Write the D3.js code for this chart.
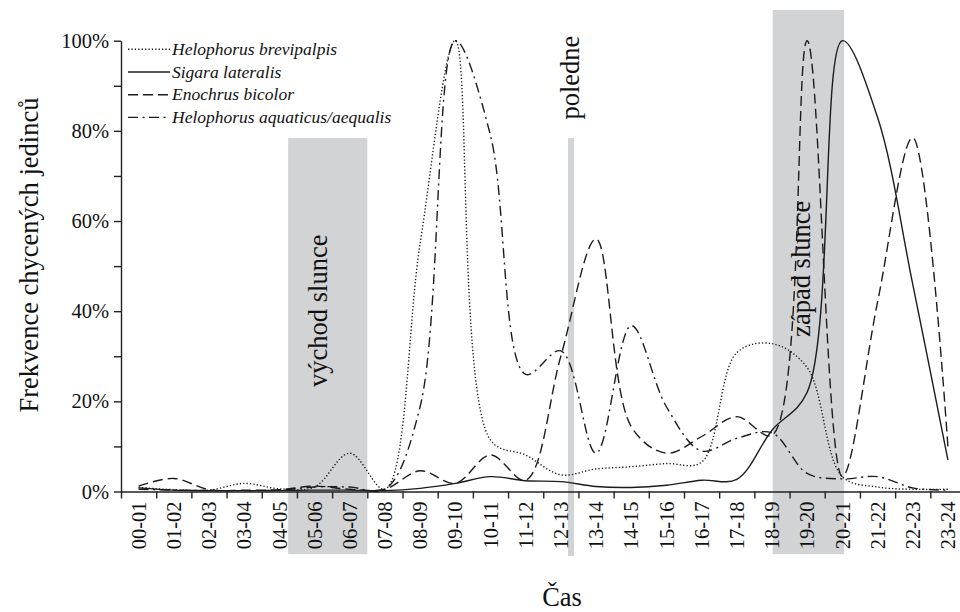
<!DOCTYPE html>
<html>
<head>
<meta charset="utf-8">
<script src="https://cdn.jsdelivr.net/npm/d3@7"></script>
<style>
    body { margin: 0; background: #fff; }
    svg { display: block; }
</style>
</head>
<body>
<div id="chart"></div>
<script>
var margin = {
    top: 40.7,
    left: 121
};
var width = 844.5;   // 24 hour bands, last one runs off the page
var height = 450.8;
var serif = "'Liberation Serif', 'Times New Roman', 'DejaVu Serif', serif";

// hour bands on the x axis
var hours = ["00-01", "01-02", "02-03", "03-04", "04-05", "05-06", "06-07", "07-08",
    "08-09", "09-10", "10-11", "11-12", "12-13", "13-14", "14-15", "15-16",
    "16-17", "17-18", "18-19", "19-20", "20-21", "21-22", "22-23", "23-24"];

// frequency of caught individuals (%) per hour
var brevipalpis = [0.9, 0.4, 0.3, 1.8, 0.6, 1.0, 8.5, 0.5, 55, 100, 11.4, 8.1,
    3.7, 5.0, 5.5, 6.2, 6.5, 30.8, 32.8, 27.5, 3.3, 1.0, 0.5, 0.5];
var lateralis = [0.8, 0.3, 0.2, 0.2, 0.2, 0.3, 0.3, 0.2, 0.7, 1.8, 3.3, 2.4,
    2.2, 1.1, 0.9, 1.4, 2.5, 2.7, 13.6, 22, 100, 83, 46, 7];
var bicolor = [1.2, 2.9, 0.4, 0.3, 0.4, 1.2, 0.5, 0.5, 4.6, 1.8, 8.1, 2.5,
    30, 56, 14.4, 8.5, 12.2, 16.6, 12.5, 100, 3.3, 42, 78.5, 10];
var aquaticus = [0.5, 0.3, 0.2, 0.2, 0.3, 1.0, 1.0, 0.5, 18.8, 100, 79, 26,
    31.2, 8.5, 36.8, 18.8, 9.0, 11.8, 13.0, 4.0, 2.8, 3.3, 0.8, 0.3];

var names = ["Helophorus brevipalpis", "Sigara lateralis", "Enochrus bicolor", "Helophorus aquaticus/aequalis"];
var yTicks = [0, 10, 20, 30, 40, 50, 60, 70, 80, 90, 100];

// sunrise, noon, sunset (in hours)
var sunrise = [4.75, 7.0];
var noon = 12.79;
var sunset = [18.52, 20.55];

var series = [brevipalpis, lateralis, bicolor, aquaticus].map(function (v, i) {
    return { name: names[i], values: v };
});
var dashes = ["1.3,2.1", null, "10,5", "10,4.5,2,4.5"];

var svg = d3.select("#chart")
    .append("svg")
    .attr("width", 960)
    .attr("height", 612)
    .attr("font-family", serif)
    .append("g")
    .attr("transform", "translate(" + margin.left + "," + margin.top + ")");

var x = d3.scaleLinear()
    .domain([0, 24])
    .range([0, width]);

var band = d3.scaleBand()
    .domain(hours)
    .range([0, width])
    .padding(0);

var y = d3.scaleLinear()
    .domain([0, 100])
    .range([height, 0]);

/*
    Gray marks for sunrise, noon and sunset
    drawn first so the curves sit on top
*/
var gray = "#d2d3d5";
svg.append("rect")
    .attr("x", x(sunrise[0]))
    .attr("width", x(sunrise[1]) - x(sunrise[0]))
    .attr("y", y(78.4))
    .attr("height", y(-13.9) - y(78.4))
    .attr("fill", gray);

svg.append("rect")
    .attr("x", x(noon) - 3)
    .attr("width", 6)
    .attr("y", y(78.4))
    .attr("height", y(-14.3) - y(78.4))
    .attr("fill", gray);

svg.append("rect")
    .attr("x", x(sunset[0]))
    .attr("width", x(sunset[1]) - x(sunset[0]))
    .attr("y", y(106.8))
    .attr("height", y(-13.9) - y(106.8))
    .attr("fill", gray);

/*
    Axes: ticks on the hour boundaries,
    labels in the middle of each hour
*/
svg.append("g")
    .attr("class", "y-axis")
    .call(d3.axisLeft(y)
        .tickValues(yTicks)
        .tickSize(7)
        .tickSizeOuter(0)
        .tickPadding(5)
        .tickFormat(function (d) { return d % 20 === 0 ? d + "%" : ""; }));

svg.append("g")
    .attr("class", "x-axis")
    .attr("transform", "translate(0," + height + ")")
    .call(d3.axisBottom(x)
        .tickValues(d3.range(0, 25))
        .tickSize(7)
        .tickSizeOuter(0)
        .tickFormat(""));

var xLabels = svg.append("g")
    .attr("class", "x-labels")
    .attr("transform", "translate(0," + height + ")")
    .call(d3.axisBottom(band).tickSize(0).tickSizeOuter(0));
xLabels.select(".domain").remove();
xLabels.selectAll("text")
    .attr("transform", "rotate(-90)")
    .attr("x", -10)
    .attr("y", 0)
    .attr("dy", ".35em")
    .style("text-anchor", "end");

svg.selectAll(".y-axis text, .x-labels text")
    .attr("font-size", "20.5px")
    .attr("fill", "#111");
svg.selectAll(".domain, .tick line")
    .attr("stroke", "#222")
    .attr("stroke-width", 1.4);

/*
    Smoothed line for each species
*/
var line = d3.line()
    .x(function (d, i) { return band(hours[i]) + band.bandwidth() / 2; })
    .y(function (d) { return y(d); })
    .curve(d3.curveCatmullRom);

svg.selectAll(".species")
    .data(series)
    .enter().append("path")
    .attr("class", "species")
    .attr("d", function (d) { return line(d.values); })
    .attr("fill", "none")
    .attr("stroke", "#1c1c1c")
    .attr("stroke-width", 1.4)
    .attr("stroke-dasharray", function (d, i) { return dashes[i]; });

/*
    Legend in the top left corner
*/
var legend = svg.selectAll(".legend")
    .data(series)
    .enter().append("g")
    .attr("class", "legend")
    .attr("transform", function (d, i) {
        return "translate(7," + (8.6 + i * 22.7) + ")";
    });

legend.append("line")
    .attr("x1", 0)
    .attr("x2", 42)
    .attr("stroke", "#1c1c1c")
    .attr("stroke-width", 1.4)
    .attr("stroke-dasharray", function (d, i) { return dashes[i]; });

legend.append("text")
    .attr("x", 44)
    .attr("dy", ".32em")
    .attr("font-size", "17.5px")
    .attr("font-style", "italic")
    .attr("fill", "#111")
    .text(function (d) { return d.name; });

/*
    Annotations and axis titles
*/
function vtext(cx, yStart, label) {
    svg.append("text")
        .attr("transform", "translate(" + cx + "," + yStart + ") rotate(-90)")
        .attr("font-size", "26.5px")
        .attr("fill", "#111")
        .text(label);
}
vtext(x((sunrise[0] + sunrise[1]) / 2) - 1, y(23.2), "východ slunce");
vtext(x(noon) + 8, y(82.5), "poledne");
vtext(x(sunset[0]) + 37, y(34.3), "západ slunce");

svg.append("text")
    .attr("transform", "translate(" + (30 - margin.left) + "," + (255 - margin.top) + ") rotate(-90)")
    .attr("dy", ".3em")
    .attr("font-size", "26.5px")
    .attr("text-anchor", "middle")
    .attr("fill", "#111")
    .text("Frekvence chycených jedinců");

svg.append("text")
    .attr("x", 562 - margin.left)
    .attr("y", 606.5 - margin.top)
    .attr("font-size", "26.5px")
    .attr("text-anchor", "middle")
    .attr("fill", "#111")
    .text("Čas");

// every label in the serif face, axes included
d3.selectAll("svg text, svg g").attr("font-family", serif);
</script>
</body>
</html>
